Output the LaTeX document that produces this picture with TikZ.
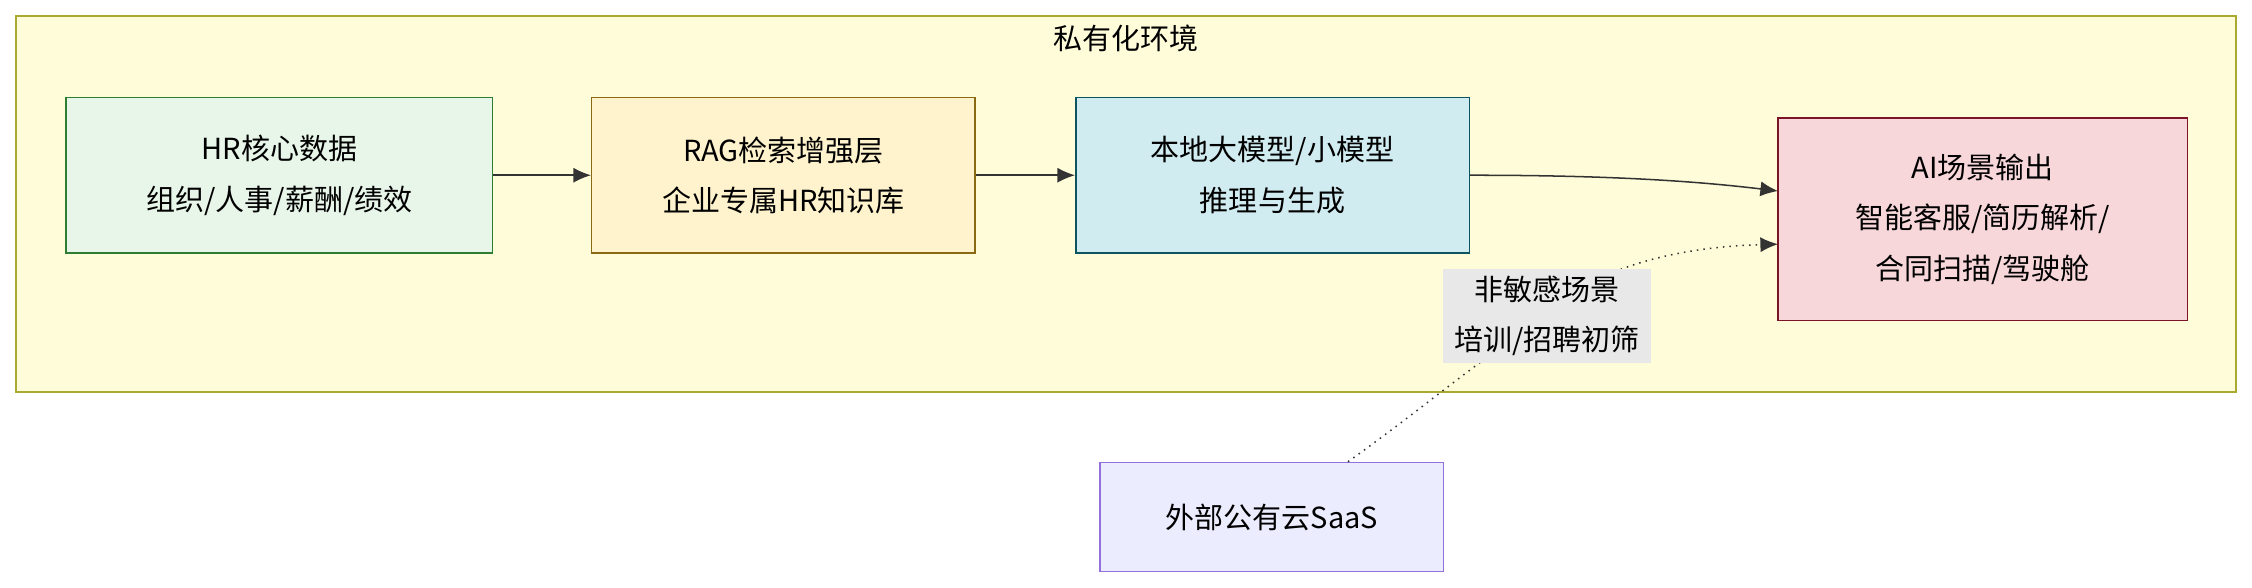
\documentclass[tikz,border=0pt]{standalone}
\usepackage{fontspec}
\setmainfont{Noto Sans CJK SC}
\usetikzlibrary{arrows.meta}
\begin{document}
\begin{tikzpicture}[x=0.02cm,y=-0.02cm,
  box/.style={draw,line width=0.6pt,align=center,font=\fontsize{11.5}{20}\selectfont,inner sep=0},
  arr/.style={-{Latex[length=7pt,width=6pt]},line width=0.6pt,draw=black!80},
  dot/.style={arr,dotted}]
\useasboundingbox (0,0) rectangle (1568,409);
\node[box,fill=yellow!15,draw={rgb,255:red,170;green,170;blue,51},minimum width=1546*0.02cm,minimum height=262*0.02cm] (env) at (784,142) {};
\node[font=\fontsize{11.5}{14}\selectfont] (title) at (784,27) {私有化环境};
\node[box,fill={rgb,255:red,232;green,245;blue,233},draw={rgb,255:red,46;green,125;blue,50},minimum width=297*0.02cm,minimum height=108*0.02cm] (hr) at (194.5,122) {HR核心数据\\组织/人事/薪酬/绩效};
\node[box,fill={rgb,255:red,255;green,243;blue,205},draw={rgb,255:red,139;green,105;blue,20},minimum width=267*0.02cm,minimum height=108*0.02cm] (rag) at (545.5,122) {RAG检索增强层\\企业专属HR知识库};
\node[box,fill={rgb,255:red,209;green,236;blue,241},draw={rgb,255:red,12;green,84;blue,96},minimum width=274*0.02cm,minimum height=108*0.02cm] (llm) at (886,122) {本地大模型/小模型\\推理与生成};
\node[box,fill={rgb,255:red,248;green,215;blue,218},draw={rgb,255:red,123;green,20;blue,38},minimum width=285*0.02cm,minimum height=141*0.02cm] (ai) at (1380.5,152.5) {AI场景输出\\智能客服/简历解析/\\合同扫描/驾驶舱};
\node[box,fill={rgb,255:red,236;green,236;blue,255},draw={rgb,255:red,147;green,112;blue,219},minimum width=239*0.02cm,minimum height=76*0.02cm] (saas) at (885.5,360) {外部公有云SaaS};
\draw[arr] (hr) -- (rag);
\draw[arr] (rag) -- (llm);
\draw[arr] (llm.east) .. controls (1120,122) and (1180,126) .. (1238,133);
\node[box,draw=none,fill={rgb,255:red,232;green,232;blue,232},minimum width=145*0.02cm,minimum height=65*0.02cm] (lbl) at (1077,220) {非敏感场景\\培训/招聘初筛};
\draw[dot] (saas.north east) ++(-67,0) .. controls (990,285) and (1030,250) .. (lbl.center)
  .. controls (1110,185) and (1170,172) .. (1238,170);
\node[box,draw=none,fill={rgb,255:red,232;green,232;blue,232},minimum width=145*0.02cm,minimum height=65*0.02cm] at (1077,220) {非敏感场景\\培训/招聘初筛};
\end{tikzpicture}
\end{document}
